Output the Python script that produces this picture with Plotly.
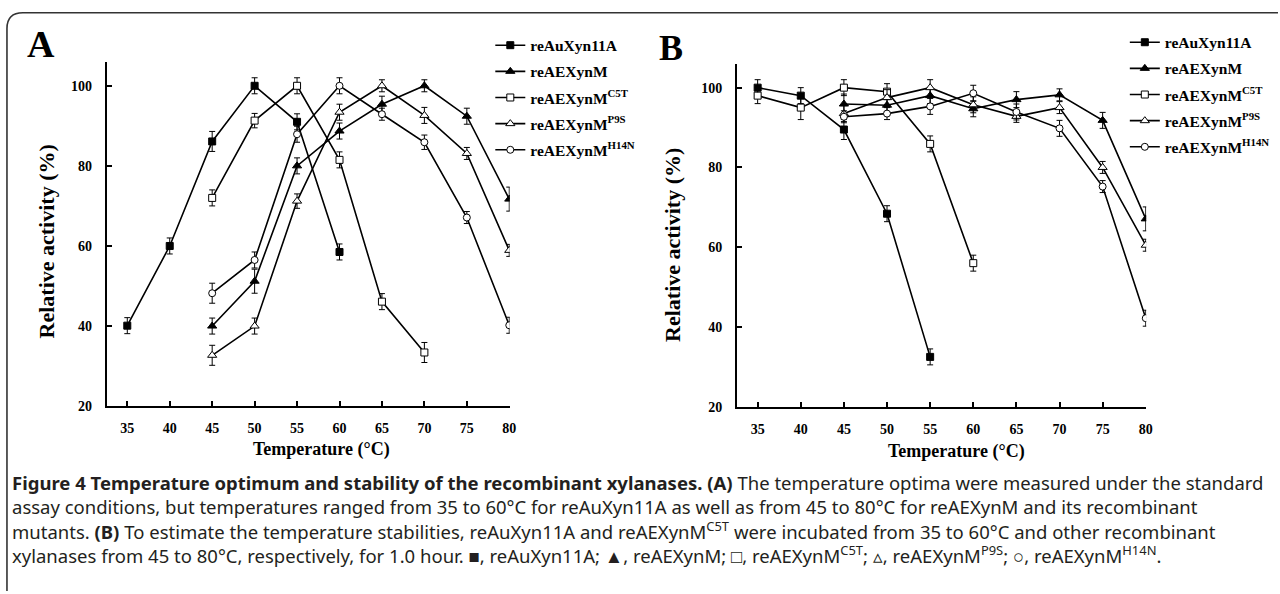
import plotly.graph_objects as go

W, H = 1280, 594

# ---------------- data ----------------
temps = [35, 40, 45, 50, 55, 60, 65, 70, 75, 80]
tick_vals_y = [20, 40, 60, 80, 100]

series_names = ["reAuXyn11A", "reAEXynM", "reAEXynM<sup>C5T</sup>",
                "reAEXynM<sup>P9S</sup>", "reAEXynM<sup>H14N</sup>"]

# Panel A: temperature optimum
a_x_auxyn = [35, 40, 45, 50, 55, 60]
a_y_auxyn = [40.1, 60.0, 86.1, 100.0, 91.0, 58.5]
a_e_auxyn = [2.0, 2.0, 2.5, 2.0, 2.0, 2.0]

a_x_aexyn = [45, 50, 55, 60, 65, 70, 75, 80]
a_y_aexyn = [40.0, 51.2, 80.0, 88.7, 95.4, 100.0, 92.4, 71.7]
a_e_aexyn = [2.0, 3.0, 2.0, 2.0, 2.0, 1.5, 2.0, 3.0]

a_x_c5t = [45, 50, 55, 60, 65, 70]
a_y_c5t = [72.0, 91.3, 100.0, 81.5, 46.1, 33.4]
a_e_c5t = [2.0, 1.8, 2.0, 2.0, 2.0, 2.5]

a_x_p9s = [45, 50, 55, 60, 65, 70, 75, 80]
a_y_p9s = [32.7, 40.0, 71.2, 93.4, 100.0, 92.6, 83.1, 58.9]
a_e_p9s = [2.5, 2.0, 1.8, 2.0, 1.5, 2.0, 1.5, 1.5]

a_x_h14n = [45, 50, 55, 60, 65, 70, 75, 80]
a_y_h14n = [48.2, 56.5, 87.9, 100.0, 92.9, 85.9, 67.1, 40.2]
a_e_h14n = [2.5, 2.0, 2.0, 2.0, 1.5, 1.8, 1.5, 2.0]

# Panel B: temperature stability
b_x_auxyn = [35, 40, 45, 50, 55]
b_y_auxyn = [100.0, 98.0, 89.5, 68.4, 32.5]
b_e_auxyn = [2.0, 2.0, 2.5, 2.0, 2.0]

b_x_aexyn = [45, 50, 55, 60, 65, 70, 75, 80]
b_y_aexyn = [95.9, 95.6, 98.0, 94.7, 97.0, 98.2, 91.8, 67.1]
b_e_aexyn = [2.5, 2.0, 2.0, 2.0, 2.0, 1.5, 2.0, 3.0]

b_x_c5t = [35, 40, 45, 50, 55, 60]
b_y_c5t = [98.0, 95.0, 100.0, 99.0, 85.9, 56.0]
b_e_c5t = [2.0, 3.0, 2.0, 2.0, 2.0, 2.0]

b_x_p9s = [45, 50, 55, 60, 65, 70, 75, 80]
b_y_p9s = [93.5, 97.5, 100.0, 95.7, 92.8, 95.0, 80.0, 60.5]
b_e_p9s = [2.0, 2.0, 2.0, 2.0, 1.5, 1.5, 1.5, 1.5]

b_x_h14n = [45, 50, 55, 60, 65, 70, 75, 80]
b_y_h14n = [92.7, 93.5, 95.3, 98.6, 93.9, 89.8, 75.2, 42.2]
b_e_h14n = [1.5, 1.5, 2.0, 2.0, 2.0, 2.0, 1.5, 2.0]

caption_lines = [
    "<b>Figure 4 Temperature optimum and stability of the recombinant xylanases. (A)</b> The temperature optima were measured under the standard",
    "assay conditions, but temperatures ranged from 35 to 60°C for reAuXyn11A as well as from 45 to 80°C for reAEXynM and its recombinant",
    "mutants. <b>(B)</b> To estimate the temperature stabilities, reAuXyn11A and reAEXynM<sup>C5T</sup> were incubated from 35 to 60°C and other recombinant",
    "xylanases from 45 to 80°C, respectively, for 1.0 hour. ■, reAuXyn11A; ▲, reAEXynM; □, reAEXynM<sup>C5T</sup>; ▵, reAEXynM<sup>P9S</sup>; ○, reAEXynM<sup>H14N</sup>.",
]

# ---------------- styles ----------------
styles = [
    dict(symbol="square", color="black", size=7),
    dict(symbol="triangle-up", color="black", size=8),
    dict(symbol="square", color="white", size=7),
    dict(symbol="triangle-up", color="white", size=8),
    dict(symbol="circle", color="white", size=7),
]

SERIF = "Liberation Serif, Times New Roman, serif"

panel_a = [(a_x_auxyn, a_y_auxyn, a_e_auxyn), (a_x_aexyn, a_y_aexyn, a_e_aexyn),
           (a_x_c5t, a_y_c5t, a_e_c5t), (a_x_p9s, a_y_p9s, a_e_p9s),
           (a_x_h14n, a_y_h14n, a_e_h14n)]
panel_b = [(b_x_auxyn, b_y_auxyn, b_e_auxyn), (b_x_aexyn, b_y_aexyn, b_e_aexyn),
           (b_x_c5t, b_y_c5t, b_e_c5t), (b_x_p9s, b_y_p9s, b_e_p9s),
           (b_x_h14n, b_y_h14n, b_e_h14n)]

fig = go.Figure()
for panel, (xa, ya, leg) in zip([panel_a, panel_b], [("x", "y", "legend"), ("x2", "y2", "legend2")]):
    for i, ((xs, ys, es), st, nm) in enumerate(zip(panel, styles, series_names)):
        fig.add_trace(go.Scatter(
            x=xs, y=ys, mode="lines+markers", name="<b>" + nm + "</b>",
            xaxis=xa, yaxis=ya, legend=leg, legendgroup=leg + str(i),
            line=dict(color="black", width=1.6),
            marker=dict(symbol=st["symbol"], size=st["size"], color=st["color"],
                        line=dict(color="black", width=1)),
            error_y=dict(type="data", array=es, visible=True, color="black",
                         thickness=1, width=3),
        ))

def px(v):
    return v / W

def py(v):
    return 1 - v / H

axis_common = dict(
    showgrid=False, zeroline=False, showline=True, linecolor="black", linewidth=2,
    ticks="inside", ticklen=5, tickwidth=1.5, tickcolor="black",
    tickfont=dict(family=SERIF, size=14, color="black", weight="bold"),
)

legend_common = dict(xanchor="left", yanchor="top",
                     font=dict(family=SERIF, size=15.5, color="black"),
                     tracegroupgap=3, itemwidth=30, bgcolor="rgba(0,0,0,0)")

fig.update_layout(
    width=W, height=H, margin=dict(l=0, r=0, t=0, b=0),
    paper_bgcolor="white", plot_bgcolor="white",
    xaxis=dict(domain=[px(107.5), px(512.5)], range=[32.6, 80.05], anchor="y",
               tickvals=temps, ticklabelstandoff=8, **axis_common),
    yaxis=dict(domain=[py(411.7), py(63)], range=[20, 105.9], anchor="x",
               tickvals=tick_vals_y, ticklabelstandoff=10, **axis_common),
    xaxis2=dict(domain=[px(741), px(1152.5)], range=[32.6, 80.05], anchor="y2",
                tickvals=temps, ticklabelstandoff=8, **axis_common),
    yaxis2=dict(domain=[py(412.3), py(65)], range=[20, 105.9], anchor="x2",
                tickvals=tick_vals_y, ticklabelstandoff=10, **axis_common),
    legend=dict(x=px(493), y=py(29), **legend_common),
    legend2=dict(x=px(1131), y=py(26), **legend_common),
    showlegend=True,
)

def ann(x, y, text, size, family=SERIF, xanchor="center", yanchor="middle", angle=0, color="black"):
    return dict(x=px(x), y=py(y), text=text, xanchor=xanchor, yanchor=yanchor, textangle=angle,
                showarrow=False, xref="paper", yref="paper",
                font=dict(family=family, size=size, color=color))

annotations = [
    ann(41, 45, "<b>A</b>", 38),
    ann(675, 49, "<b>B</b>", 36),
    ann(47, 245, "<b>Relative activity (%)</b>", 22, angle=-90),
    ann(676, 248, "<b>Relative activity (%)</b>", 22, angle=-90),
    ann(323, 456, "<b>Temperature</b> <b>(°C)</b>", 18),
    ann(962, 458, "<b>Temperature</b> <b>(°C)</b>", 18),
]
for i, line in enumerate(caption_lines):
    annotations.append(ann(10, 489 + i * 24.4, line, 18.5, family="Noto Sans, sans-serif",
                           xanchor="left", color="#231f20"))
fig.update_layout(annotations=annotations)

# rounded frame around figure area
r = 16
x0, yt = 7, 13
path = (f"M {px(x0)},{py(H + 5)} L {px(x0)},{py(yt + r)} "
        f"Q {px(x0)},{py(yt)} {px(x0 + r)},{py(yt)} L {px(W + 5)},{py(yt)}")
fig.add_shape(type="path", path=path, xref="paper", yref="paper",
              line=dict(color="#333333", width=1.6))

fig.write_html("out.html", config={"displayModeBar": False},
               post_script="document.body.style.margin='0';document.body.style.overflow='hidden';")
